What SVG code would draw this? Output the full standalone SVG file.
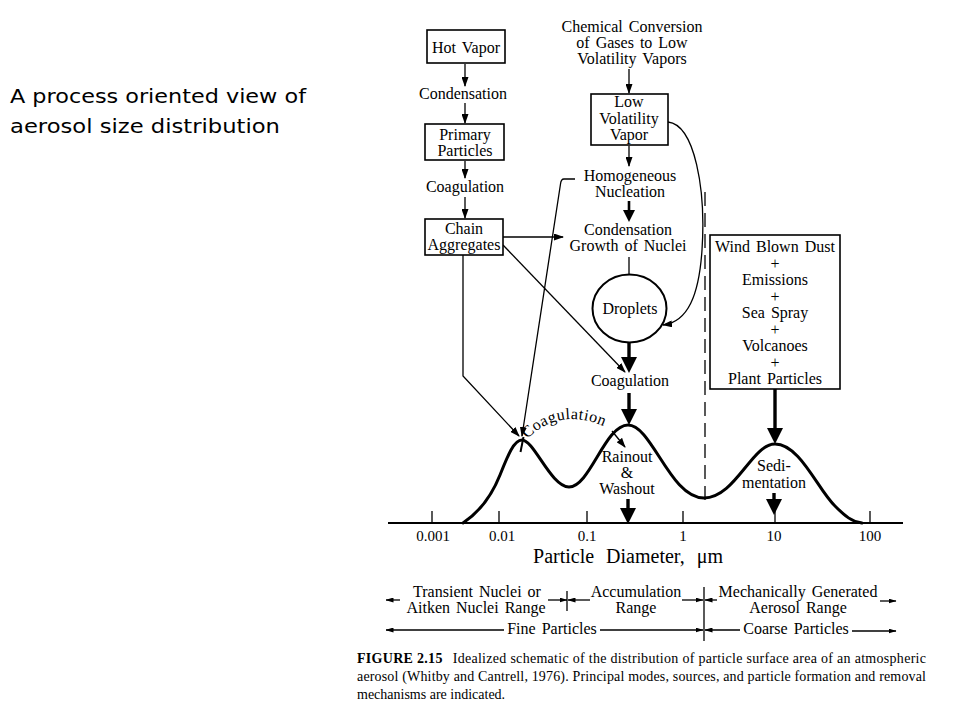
<svg xmlns="http://www.w3.org/2000/svg" width="960" height="720" viewBox="0 0 960 720">
<style>
.t{font-family:"Liberation Serif","Times New Roman",serif;font-size:16px;fill:#000;text-anchor:middle;word-spacing:2px}
.tk{font-family:"Liberation Serif","Times New Roman",serif;font-size:15px;fill:#000;text-anchor:middle}
.cap{font-family:"Liberation Serif","Times New Roman",serif;font-size:14px;fill:#000}
.ttl{font-family:"DejaVu Sans","Noto Sans",sans-serif;font-size:19px;fill:#000}
.box{fill:#fff;stroke:#000;stroke-width:1.6}
.ln{fill:none;stroke:#000;stroke-width:1.3}
.thk{fill:none;stroke:#000;stroke-width:3.4}
.med{fill:none;stroke:#000;stroke-width:2.6}
.crv{fill:none;stroke:#000;stroke-width:3;stroke-linejoin:round;stroke-linecap:round}
</style>
<defs>
<marker id="ah" viewBox="0 0 10 7" refX="9" refY="3.5" markerWidth="10" markerHeight="7" markerUnits="userSpaceOnUse" orient="auto"><path d="M0,0 L10,3.5 L0,7 z" fill="#000"/></marker>
<marker id="ahS" viewBox="0 0 8 5" refX="7.5" refY="2.5" markerWidth="8" markerHeight="5" markerUnits="userSpaceOnUse" orient="auto"><path d="M0,0 L8,2.5 L0,5 z" fill="#000"/></marker>
<marker id="ahM" viewBox="0 0 12 12" refX="7" refY="6" markerWidth="12" markerHeight="12" markerUnits="userSpaceOnUse" orient="auto"><path d="M0,0 L12,6 L0,12 z" fill="#000"/></marker>
<marker id="ahB" viewBox="0 0 16 16" refX="9" refY="8" markerWidth="16" markerHeight="16" markerUnits="userSpaceOnUse" orient="auto"><path d="M0,0 L16,8 L0,16 z" fill="#000"/></marker>
<path id="coagPath" d="M527,439 Q564,403 615,432"/>
</defs>

<text class="ttl" x="10" y="103" textLength="296" lengthAdjust="spacingAndGlyphs">A process oriented view of</text>
<text class="ttl" x="10" y="133" textLength="270" lengthAdjust="spacingAndGlyphs">aerosol size distribution</text>

<g id="connectors">
<line class="ln" x1="465" y1="64" x2="465" y2="86" marker-end="url(#ah)"/>
<line class="ln" x1="465" y1="103" x2="465" y2="123" marker-end="url(#ah)"/>
<line class="ln" x1="465" y1="161" x2="465" y2="178" marker-end="url(#ah)"/>
<line class="ln" x1="465" y1="197" x2="465" y2="218" marker-end="url(#ah)"/>
<line class="ln" x1="629" y1="69" x2="629" y2="93" marker-end="url(#ah)"/>
<line class="ln" x1="629" y1="146" x2="629" y2="166" marker-end="url(#ah)"/>
<line class="med" x1="629" y1="201" x2="629" y2="217" marker-end="url(#ahM)"/>
<line class="ln" x1="629" y1="257" x2="629" y2="275"/>
<line class="thk" x1="629" y1="342" x2="629" y2="366" marker-end="url(#ahB)"/>
<line class="thk" x1="629" y1="393" x2="629" y2="418" marker-end="url(#ahB)"/>
<line class="thk" x1="775" y1="389" x2="775" y2="437" marker-end="url(#ahB)"/>
<line class="thk" x1="628" y1="499" x2="628" y2="517" marker-end="url(#ahB)"/>
<line class="thk" x1="774" y1="493" x2="774" y2="508" marker-end="url(#ahB)"/>
<line class="ln" x1="503" y1="237" x2="563" y2="237" marker-end="url(#ah)"/>
<line class="ln" x1="503" y1="245" x2="625" y2="372" marker-end="url(#ah)"/>
<path class="ln" d="M463,255 L463,376 L519,436" marker-end="url(#ah)"/>
<path class="ln" d="M575,179 L564,179 Q561,179 560.5,184 L522,436" marker-end="url(#ah)"/>
<path class="ln" d="M668,122 C695,125 706,190 702,250 C699,295 688,322 663,325" marker-end="url(#ah)"/>
<line class="ln" x1="612" y1="431" x2="625" y2="447" marker-end="url(#ah)"/>
<line class="ln" x1="705" y1="192" x2="705" y2="500" stroke-dasharray="14,7"/>
</g>

<g id="node-hot-vapor">
<rect class="box" x="427" y="30" width="78" height="33"/>
<text class="t" x="466" y="53">Hot Vapor</text>
</g>
<g id="node-condensation1"><text class="t" x="463" y="99">Condensation</text></g>
<g id="node-primary">
<rect class="box" x="425" y="124" width="79" height="36"/>
<text class="t" x="465" y="140">Primary</text>
<text class="t" x="465" y="156">Particles</text>
</g>
<g id="node-coagulation1"><text class="t" x="465" y="192">Coagulation</text></g>
<g id="node-chain">
<rect class="box" x="425" y="219" width="78" height="36"/>
<text class="t" x="464" y="234">Chain</text>
<text class="t" x="464" y="250">Aggregates</text>
</g>
<g id="node-chemical">
<text class="t" x="632" y="32">Chemical Conversion</text>
<text class="t" x="632" y="48">of Gases to Low</text>
<text class="t" x="632" y="64">Volatility Vapors</text>
</g>
<g id="node-low-vol">
<rect class="box" x="591" y="94" width="77" height="51"/>
<text class="t" x="629" y="107">Low</text>
<text class="t" x="629" y="124">Volatility</text>
<text class="t" x="629" y="140">Vapor</text>
</g>
<g id="node-homogeneous">
<text class="t" x="630" y="181">Homogeneous</text>
<text class="t" x="630" y="197">Nucleation</text>
</g>
<g id="node-growth">
<text class="t" x="628" y="235">Condensation</text>
<text class="t" x="628" y="251">Growth of Nuclei</text>
</g>
<g id="node-droplets">
<ellipse cx="629.5" cy="308.5" rx="37" ry="34" fill="#fff" stroke="#000" stroke-width="2"/>
<text class="t" x="630" y="314">Droplets</text>
</g>
<g id="node-coagulation2"><text class="t" x="630" y="386">Coagulation</text></g>
<g id="node-sources">
<rect class="box" x="710" y="235" width="130" height="154"/>
<text class="t" x="775" y="252">Wind Blown Dust</text>
<text class="t" x="775" y="269">+</text>
<text class="t" x="775" y="285">Emissions</text>
<text class="t" x="775" y="302">+</text>
<text class="t" x="775" y="318">Sea Spray</text>
<text class="t" x="775" y="335">+</text>
<text class="t" x="775" y="351">Volcanoes</text>
<text class="t" x="775" y="368">+</text>
<text class="t" x="775" y="384">Plant Particles</text>
</g>

<g id="distribution">
<path class="crv" d="M463,523 C475,515 490,500 500,475 C508,455 514,440 522,440 C534,440 551,487 569,487 C590,487 605,425 628,425 C652,425 670,498 704,498 C735,498 752,444 775,444 C800,444 818,490 835,506 C845,516 852,522 862,523"/>
<line x1="523.5" y1="437" x2="520.5" y2="452" stroke="#000" stroke-width="2"/>
<text class="t" style="text-anchor:start;letter-spacing:0.5px"><textPath href="#coagPath">Coagulation</textPath></text>
<text class="t" x="627" y="462">Rainout</text>
<text class="t" x="627" y="478">&amp;</text>
<text class="t" x="627" y="494">Washout</text>
<text class="t" x="774" y="471">Sedi-</text>
<text class="t" x="774" y="488">mentation</text>
</g>

<g id="axis">
<line x1="388" y1="523" x2="903" y2="523" stroke="#000" stroke-width="2"/>
<g stroke="#000" stroke-width="1.3">
<line x1="432" y1="511" x2="432" y2="523"/>
<line x1="499" y1="511" x2="499" y2="523"/>
<line x1="587" y1="511" x2="587" y2="523"/>
<line x1="683" y1="511" x2="683" y2="523"/>
<line x1="775" y1="511" x2="775" y2="523"/>
<line x1="870" y1="511" x2="870" y2="523"/>
</g>
<text class="tk" x="433" y="541">0.001</text>
<text class="tk" x="502" y="541">0.01</text>
<text class="tk" x="587" y="541">0.1</text>
<text class="tk" x="683" y="541">1</text>
<text class="tk" x="774" y="541">10</text>
<text class="tk" x="870" y="541">100</text>
<text class="t" x="628" y="563" style="font-size:20px;word-spacing:7px">Particle Diameter, μm</text>
</g>

<g id="ranges">
<text class="t" x="477" y="597">Transient Nuclei or</text>
<text class="t" x="476" y="613">Aitken Nuclei Range</text>
<text class="t" x="636" y="597">Accumulation</text>
<text class="t" x="636" y="613">Range</text>
<text class="t" x="798" y="597">Mechanically Generated</text>
<text class="t" x="798" y="613">Aerosol Range</text>
<text class="t" x="552" y="634">Fine Particles</text>
<text class="t" x="796" y="634">Coarse Particles</text>
<g class="ln">
<line x1="400" y1="600" x2="386" y2="600" marker-end="url(#ahS)"/>
<line x1="548" y1="600" x2="567" y2="600" marker-end="url(#ahS)"/>
<line x1="590" y1="600" x2="568" y2="600" marker-end="url(#ahS)"/>
<line x1="682" y1="600" x2="703" y2="600" marker-end="url(#ahS)"/>
<line x1="717" y1="600" x2="705" y2="600" marker-end="url(#ahS)"/>
<line x1="880" y1="601" x2="896" y2="601" marker-end="url(#ahS)"/>
<line x1="504" y1="630" x2="386" y2="630" marker-end="url(#ahS)"/>
<line x1="600" y1="630" x2="703" y2="630" marker-end="url(#ahS)"/>
<line x1="740" y1="630" x2="705" y2="630" marker-end="url(#ahS)"/>
<line x1="852" y1="631" x2="896" y2="631" marker-end="url(#ahS)"/>
<line x1="567" y1="591" x2="567" y2="611"/>
<line x1="704" y1="587" x2="704" y2="641"/>
</g>
</g>

<g id="caption">
<text class="cap" x="357" y="663" textLength="569" lengthAdjust="spacing"><tspan font-weight="bold">FIGURE 2.15</tspan><tspan dx="10">Idealized schematic of the distribution of particle surface area of an atmospheric</tspan></text>
<text class="cap" x="357" y="681" textLength="569" lengthAdjust="spacing">aerosol (Whitby and Cantrell, 1976). Principal modes, sources, and particle formation and removal</text>
<text class="cap" x="357" y="699">mechanisms are indicated.</text>
</g>
</svg>
